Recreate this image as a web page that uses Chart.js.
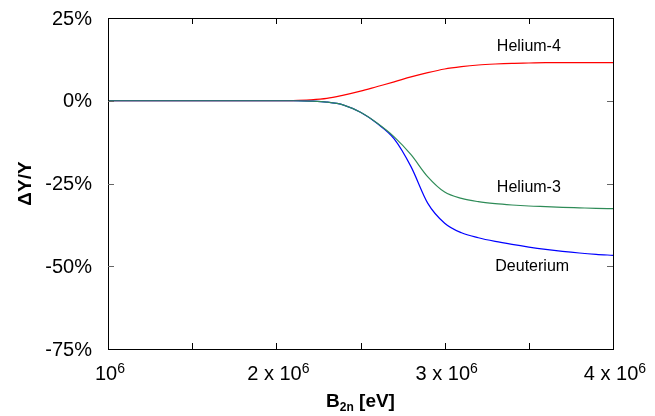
<!DOCTYPE html>
<html>
<head>
<meta charset="utf-8">
<script src="https://cdn.jsdelivr.net/npm/chart.js@4"></script>
<style>
  body { margin: 0; background: #fff; }
  #wrap { width: 655px; height: 416px; }
</style>
</head>
<body>
<div id="wrap"><canvas id="myChart" width="655" height="416"></canvas></div>
<script>
// B_2n in units of 10^6 eV
const bEnergy = [1.0, 1.1, 1.2, 1.3, 1.4, 1.5, 1.6, 1.7, 1.8, 1.9, 2.0,
                 2.1, 2.2, 2.3, 2.4, 2.5, 2.6, 2.7, 2.8, 2.9, 3.0,
                 3.1, 3.2, 3.3, 3.4, 3.5, 3.6, 3.7, 3.8, 3.9, 4.0];
const helium4 = [0, 0, 0, 0, 0, 0, 0, 0, 0, 0, 0,
                 0.05, 0.25, 0.7, 1.7, 2.9, 4.3, 5.7, 7.2, 8.5, 9.6,
                 10.3, 10.8, 11.1, 11.3, 11.4, 11.5, 11.5, 11.5, 11.5, 11.5];
const helium3 = [0, 0, 0, 0, 0, 0, 0, 0, 0, 0, 0,
                 0, -0.1, -0.4, -1.3, -3.5, -6.8, -10.9, -16.3, -23, -27.6,
                 -29.5, -30.5, -31.1, -31.5, -31.8, -32.0, -32.2, -32.35, -32.5, -32.6];
const deuterium = [0, 0, 0, 0, 0, 0, 0, 0, 0, 0, 0,
                   0, -0.1, -0.4, -1.3, -3.5, -6.9, -11.5, -19.9, -31, -37,
                   -39.9, -41.4, -42.5, -43.4, -44.2, -44.9, -45.5, -46.0, -46.4, -46.7];
const seriesNames = ['Helium-4', 'Helium-3', 'Deuterium'];
const xTickLabels = [[1, ''], [2, '2 x '], [3, '3 x '], [4, '4 x ']]; // value, prefix before "10^6"
const yTicks = [25, 0, -25, -50, -75];

const toPoints = (ys) => ys.map((y, i) => ({ x: bEnergy[i], y: y }));

// name labels next to the curves: [x value, y value]
const labelSpots = [[3.5, 16.4], [3.5, -26.2], [3.52, -50]];

const decorations = {
    id: 'decorations',
    afterDraw(chart) {
        const ctx = chart.ctx;
        const a = chart.chartArea;
        const xs = chart.scales.x;
        const ys = chart.scales.y;
        ctx.save();

        // frame
        ctx.strokeStyle = '#000';
        ctx.lineWidth = 1;
        ctx.strokeRect(a.left + 0.5, a.top + 0.5, a.right - a.left, a.bottom - a.top);

        // inward tick marks
        const tl = 6;
        ctx.beginPath();
        [1.5, 2, 2.5, 3, 3.5].forEach(v => {
            const px = Math.round(xs.getPixelForValue(v)) + 0.5;
            ctx.moveTo(px, a.bottom); ctx.lineTo(px, a.bottom - tl);
            ctx.moveTo(px, a.top); ctx.lineTo(px, a.top + tl);
        });
        ctx.stroke();
        ctx.strokeStyle = '#666';
        ctx.beginPath();
        [0, -25, -50].forEach(v => {
            const py = Math.round(ys.getPixelForValue(v)) + 0.5;
            ctx.moveTo(a.left, py); ctx.lineTo(a.left + tl, py);
            ctx.moveTo(a.right, py); ctx.lineTo(a.right - tl, py);
        });
        ctx.stroke();

        const big = '20px "Liberation Sans", Arial, sans-serif';
        const small = '14px "Liberation Sans", Arial, sans-serif';

        // y tick labels
        ctx.fillStyle = '#000';
        ctx.font = big;
        ctx.textAlign = 'right';
        ctx.textBaseline = 'middle';
        yTicks.forEach(v => {
            ctx.fillText(v + '%', a.left - 16, ys.getPixelForValue(v) + 1);
        });

        // x tick labels with superscript
        ctx.textBaseline = 'alphabetic';
        ctx.textAlign = 'left';
        xTickLabels.forEach(([v, pre]) => {
            ctx.font = big;
            const main = pre + '10';
            const w1 = ctx.measureText(main).width;
            ctx.font = small;
            const w2 = ctx.measureText('6').width;
            const x0 = xs.getPixelForValue(v) - (w1 + w2) / 2 + 2;
            ctx.font = big;
            ctx.fillText(main, x0, 380);
            ctx.font = small;
            ctx.fillText('6', x0 + w1, 373);
        });

        // x title B_2n [eV]
        const bold = 'bold 19px "Liberation Sans", Arial, sans-serif';
        const boldSmall = 'bold 12px "Liberation Sans", Arial, sans-serif';
        ctx.font = bold;
        const wb = ctx.measureText('B').width;
        const wr = ctx.measureText(' [eV]').width;
        ctx.font = boldSmall;
        const ws = ctx.measureText('2n').width;
        const cx = (a.left + a.right) / 2;
        let tx = cx - (wb + ws + wr) / 2;
        ctx.font = bold;
        ctx.fillText('B', tx, 407);
        ctx.font = boldSmall;
        ctx.fillText('2n', tx + wb, 411);
        ctx.font = bold;
        ctx.fillText(' [eV]', tx + wb + ws, 407);

        // y title
        ctx.save();
        ctx.translate(31, (a.top + a.bottom) / 2);
        ctx.rotate(-Math.PI / 2);
        ctx.textAlign = 'center';
        ctx.font = bold;
        ctx.fillText('\u0394Y/Y', 0, 0);
        ctx.restore();

        // curve names
        ctx.font = '16px "Liberation Sans", Arial, sans-serif';
        ctx.textAlign = 'center';
        ctx.textBaseline = 'middle';
        seriesNames.forEach((name, i) => {
            const [vx, vy] = labelSpots[i];
            ctx.fillText(name, xs.getPixelForValue(vx), ys.getPixelForValue(vy));
        });
        ctx.restore();
    }
};

const ctx = document.getElementById('myChart').getContext('2d');
new Chart(ctx, {
    type: 'line',
    data: {
        datasets: [
            { label: seriesNames[0], data: toPoints(helium4), borderColor: '#ff0000', order: 2 },
            { label: seriesNames[2], data: toPoints(deuterium), borderColor: '#0000ff', order: 1 },
            { label: seriesNames[1], data: toPoints(helium3), borderColor: '#2e8b57', order: 0 },
        ].map(d => Object.assign(d, {
            borderWidth: 1.2,
            pointRadius: 0,
            fill: false,
            cubicInterpolationMode: 'monotone',
        })),
    },
    options: {
        responsive: false,
        animation: false,
        layout: { padding: { top: 18, right: 42, left: 0, bottom: 0 } },
        plugins: {
            legend: { display: false },
            tooltip: { enabled: false },
        },
        scales: {
            x: {
                type: 'linear',
                min: 1,
                max: 4,
                grid: { display: false },
                border: { display: false },
                ticks: { display: false, stepSize: 0.5 },
                afterFit: (scale) => { scale.height = 67; },
            },
            y: {
                min: -75,
                max: 25,
                grid: { display: false, drawTicks: false },
                border: { display: false },
                ticks: { display: false, stepSize: 25 },
                afterFit: (scale) => { scale.width = 108; },
            },
        },
    },
    plugins: [decorations],
});
</script>
</body>
</html>
